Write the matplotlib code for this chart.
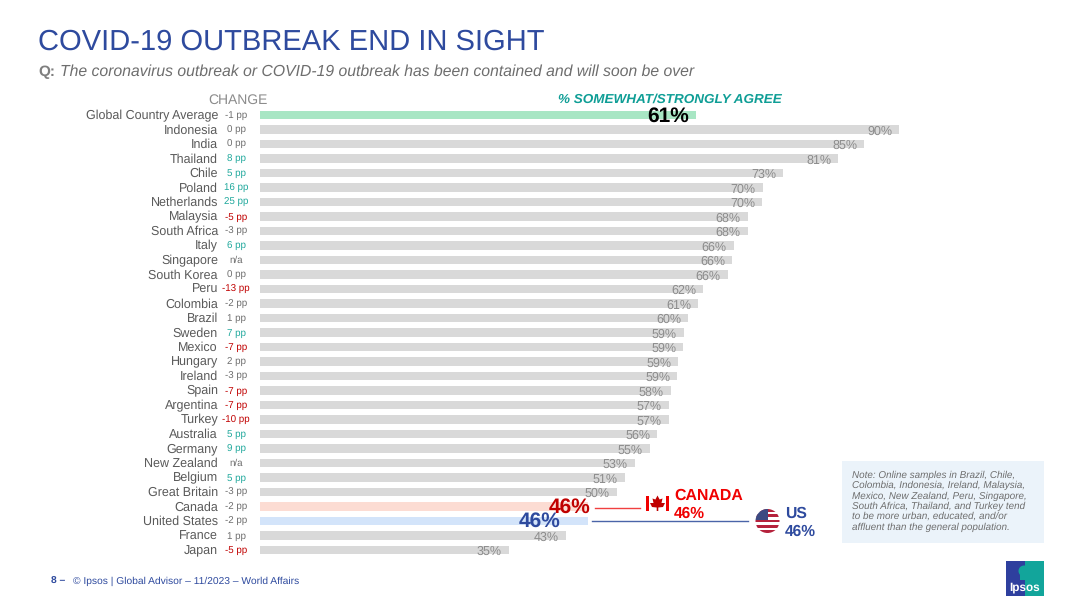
import matplotlib
matplotlib.use("Agg")
import matplotlib.pyplot as plt
from matplotlib.patches import Circle, Rectangle, Polygon

plt.rcParams['font.family'] = ['Liberation Sans', 'DejaVu Sans']
plt.rcParams['text.hinting'] = 'no_hinting'

countries = ["Global Country Average", "Indonesia", "India", "Thailand", "Chile", "Poland",
             "Netherlands", "Malaysia", "South Africa", "Italy", "Singapore", "South Korea",
             "Peru", "Colombia", "Brazil", "Sweden", "Mexico", "Hungary", "Ireland", "Spain",
             "Argentina", "Turkey", "Australia", "Germany", "New Zealand", "Belgium",
             "Great Britain", "Canada", "United States", "France", "Japan"]
# printed percentages
labels = [61, 90, 85, 81, 73, 70, 70, 68, 68, 66, 66, 66, 62, 61, 60, 59, 59, 59, 59, 58,
          57, 57, 56, 55, 53, 51, 50, 46, 46, 43, 35]
# bar lengths as measured, the bars are not quite the rounded labels
values = [61.3, 89.9, 85.0, 81.3, 73.6, 70.7, 70.6, 68.6, 68.6, 66.6, 66.4, 65.8, 62.3, 61.6, 60.2,
          59.6, 59.5, 58.8, 58.7, 57.8, 57.5, 57.5, 55.9, 54.8, 52.7, 51.3, 50.2, 46.2, 46.2, 43.0, 35.0]
changes = ["-1 pp", "0 pp", "0 pp", "8 pp", "5 pp", "16 pp", "25 pp", "-5 pp", "-3 pp", "6 pp",
           "n/a", "0 pp", "-13 pp", "-2 pp", "1 pp", "7 pp", "-7 pp", "2 pp", "-3 pp", "-7 pp",
           "-7 pp", "-10 pp", "5 pp", "9 pp", "n/a", "5 pp", "-3 pp", "-2 pp", "-2 pp", "1 pp", "-5 pp"]
change_kind = ["n", "n", "n", "u", "u", "u", "u", "d", "n", "u",
               "n", "n", "d", "n", "n", "u", "d", "n", "n", "d",
               "d", "d", "u", "u", "n", "u", "n", "n", "n", "n", "d"]
kind_colors = {"n": "#6e6e6e", "u": "#1fa89c", "d": "#c00000"}

GREY = "#d9d9d9"
bar_colors = [GREY] * len(countries)
bar_colors[0] = "#a8e6c4"
bar_colors[27] = "#fcdcd3"
bar_colors[28] = "#d3e4fa"

NAVY = "#2e4a9e"
RED = "#f00000"
DARKRED = "#c00000"
TEAL = "#0f9e96"

W, H = 1080, 607
fig = plt.figure(figsize=(W / 100, H / 100), dpi=100, facecolor="white")

# pixel overlay for everything that is not a bar
pix = fig.add_axes([0, 0, 1, 1])
pix.set_xlim(0, W)
pix.set_ylim(H, 0)
pix.axis("off")

# bar axes: 0-100 % from x=260 px, 7.11 px per point, rows 14.5 px apart
top, bottom = 107.75, 557.25
ax = fig.add_axes([260 / W, 1 - bottom / H, 711 / W, (bottom - top) / H])
ax.patch.set_alpha(0)
ax.set_xlim(0, 100)
ax.set_ylim(len(countries) - 0.5, -0.5)
ax.axis("off")
ax.barh(range(len(countries)), values, height=0.62, color=bar_colors, linewidth=0)

for i, (c, v, lab, ch, k) in enumerate(zip(countries, values, labels, changes, change_kind)):
    ax.annotate(c, xy=(0, i), xytext=(-42, -4), textcoords="offset pixels", ha="right", va="baseline",
                fontsize=9, color="#595959")
    ax.annotate(ch, xy=(0, i), xytext=(-24, -3), textcoords="offset pixels", ha="center", va="baseline",
                fontsize=7, color=kind_colors[k])
    if i == 0:
        ax.annotate(f"{lab}%", xy=(v, i), xytext=(-7, -6.5), textcoords="offset pixels", ha="right",
                    va="baseline", fontsize=15, fontweight="bold", color="black")
    elif c == "Canada":
        ax.annotate(f"{lab}%", xy=(v, i), xytext=(2, -6), textcoords="offset pixels", ha="right",
                    va="baseline", fontsize=15, fontweight="bold", color=DARKRED)
    elif c == "United States":
        ax.annotate(f"{lab}%", xy=(v, i), xytext=(-28, -6), textcoords="offset pixels", ha="right",
                    va="baseline", fontsize=15, fontweight="bold", color=NAVY)
    else:
        ax.annotate(f"{lab}%", xy=(v, i), xytext=(-7, -5), textcoords="offset pixels", ha="right",
                    va="baseline", fontsize=9, color="#8c8c8c")

# headers
pix.text(38, 42, "COVID-19 OUTBREAK END IN SIGHT", fontsize=21, color=NAVY, va="center")
pix.text(38, 72, "Q:", fontsize=11, fontweight="bold", color="#7f7f7f", va="center")
pix.text(60, 72, "The coronavirus outbreak or COVID-19 outbreak has been contained and will soon be over",
         fontsize=11.33, fontstyle="italic", color="#6e6e6e", va="center")
pix.text(238, 100, "CHANGE", fontsize=10, color="#8c8c8c", ha="center", va="center")
pix.text(670, 99.5, "% SOMEWHAT/STRONGLY AGREE", fontsize=9.7, fontweight="bold", fontstyle="italic",
         color=TEAL, ha="center", va="center")

# callout lines
pix.plot([595, 640], [507.5, 507.5], color="#f04040", lw=1)
pix.plot([592, 748], [521, 521], color="#4a64a8", lw=1)

# canada flag
pix.add_patch(Rectangle((646, 496), 2.6, 15, color=RED, lw=0))
pix.add_patch(Rectangle((666, 496), 2.6, 15, color=RED, lw=0))
leaf = [(657.5, 495.5), (659.6, 499.5), (662.5, 498.5), (661.5, 503), (665, 503), (663, 507), (658.3, 507.5),
        (658.3, 511), (656.7, 511), (656.7, 507.5), (652, 507), (650, 503), (653.5, 503), (652.5, 498.5), (655.4, 499.5)]
pix.add_patch(Polygon(leaf, closed=True, color=DARKRED, lw=0))
pix.text(674, 496, "CANADA", fontsize=11.4, fontweight="bold", color=RED, va="center")
pix.text(674, 514, "46%", fontsize=11.2, fontweight="bold", color=RED, va="center")

# us flag
clip = Circle((767.5, 521), 12, transform=pix.transData)
for s in range(9):
    col = "#b5223c" if s % 2 == 0 else "white"
    r = pix.add_patch(Rectangle((755, 509 + s * 24 / 9), 25, 24 / 9, color=col, lw=0))
    r.set_clip_path(clip)
r = pix.add_patch(Rectangle((755, 509), 12.5, 11, color="#3c4a82", lw=0))
r.set_clip_path(clip)
pix.text(785, 514, "US", fontsize=11.3, fontweight="bold", color=NAVY, va="center")
pix.text(785, 532, "46%", fontsize=11.2, fontweight="bold", color=NAVY, va="center")

# note box
pix.add_patch(Rectangle((842, 461), 202, 82, color="#ebf3fa", lw=0))
note = ["Note: Online samples in Brazil, Chile,", "Colombia, Indonesia, Ireland, Malaysia,",
        "Mexico, New Zealand, Peru, Singapore,", "South Africa, Thailand, and Turkey tend",
        "to be more urban, educated, and/or", "affluent than the general population."]
for i, line in enumerate(note):
    pix.text(852, 478 + i * 10.3, line, fontsize=7.1, fontstyle="italic", color="#6e6e6e", va="baseline")

# footer
pix.text(51, 584, "8 \u2013", fontsize=7.35, fontweight="bold", color=NAVY, va="baseline")
pix.text(73, 584, "\u00a9 Ipsos | Global Advisor \u2013 11/2023 \u2013 World Affairs", fontsize=7.35,
         color=NAVY, va="baseline")

# logo
pix.add_patch(Rectangle((1006, 561), 19, 35, color="#2e3f9e", lw=0))
pix.add_patch(Rectangle((1025, 561), 19, 35, color="#12a59b", lw=0))
pix.add_patch(Circle((1024, 571), 5.5, color="#12a59b", lw=0))
pix.add_patch(Rectangle((1020, 574), 7, 6, color="#12a59b", lw=0))
pix.text(1025, 591, "Ipsos", fontsize=8.5, fontweight="bold", color="white", ha="center", va="baseline")

fig.savefig("out.png", dpi=100)
